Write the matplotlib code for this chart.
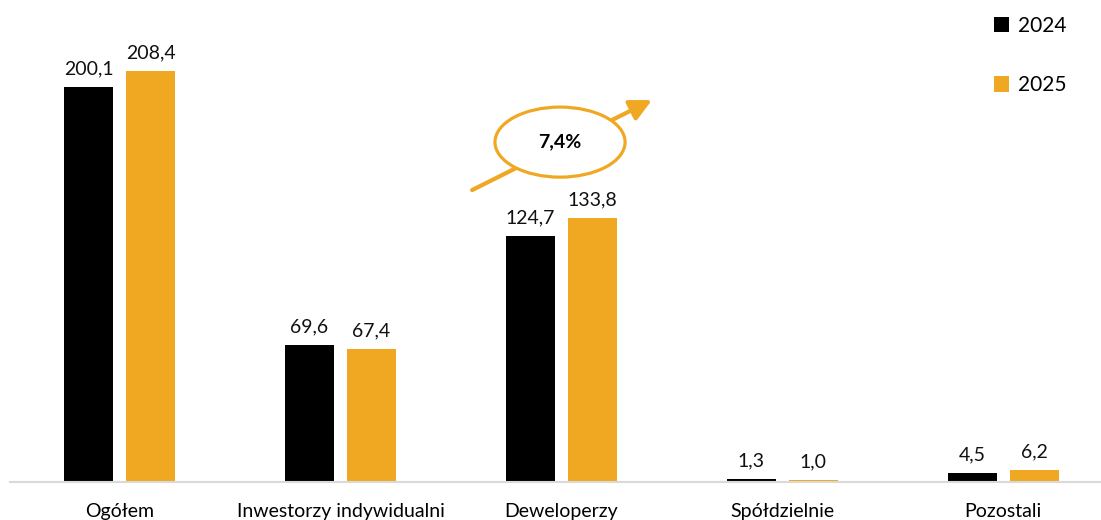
import matplotlib
matplotlib.use("Agg")
import matplotlib.pyplot as plt
from matplotlib.patches import Ellipse
import numpy as np

categories = ["Ogółem", "Inwestorzy indywidualni", "Deweloperzy", "Spółdzielnie", "Pozostali"]
values_2024 = [200.1, 69.6, 124.7, 1.3, 4.5]
values_2025 = [208.4, 67.4, 133.8, 1.0, 6.2]
series_labels = ["2024", "2025"]
growth_label = "7,4%"

BLACK = "#000000"
ORANGE = "#F0A823"
FONT = ["Lato", "DejaVu Sans"]

plt.rcParams["font.family"] = FONT

fig = plt.figure(figsize=(11.01, 5.20), dpi=100)
ax = fig.add_axes([10 / 1101, 38 / 520, 1 - 10 / 1101, 482 / 520])

x = np.arange(len(categories))
w = 0.222
off = 0.14
b1 = ax.bar(x - off, values_2024, w, color=BLACK, label=series_labels[0])
b2 = ax.bar(x + off, values_2025, w, color=ORANGE, label=series_labels[1])

def fmt(v):
    return f"{v:.1f}".replace(".", ",")

for bars, vals in ((b1, values_2024), (b2, values_2025)):
    for r, v in zip(bars, vals):
        ax.annotate(fmt(v), (r.get_x() + r.get_width() / 2, r.get_height()),
                    xytext=(0, 7), textcoords="offset points",
                    ha="center", va="bottom", fontsize=14, color="#111111")

ax.set_xlim(-0.496, 4.443)
ax.set_ylim(0, 244.2)
ax.set_xticks(x)
ax.set_xticklabels(categories, fontsize=14)
ax.tick_params(axis="x", length=0, pad=15)
ax.set_yticks([])
for s in ["top", "right", "left"]:
    ax.spines[s].set_visible(False)
ax.spines["bottom"].set_color("#D9D9D9")
ax.spines["bottom"].set_linewidth(1.5)

# growth arrow with ellipse
ax.annotate("", xy=(2.41, 193.5), xytext=(1.596, 147.9),
            arrowprops=dict(arrowstyle="-|>,head_length=1.3,head_width=0.65",
                            color=ORANGE, lw=3, shrinkA=0, shrinkB=0),
            zorder=3)
ell = Ellipse((1.994, 172.2), 0.589, 35.5, facecolor="white", edgecolor=ORANGE,
              lw=2.3, zorder=4)
ax.add_patch(ell)
ax.text(1.994, 172.2, growth_label, ha="center", va="center", fontsize=14,
        fontweight="bold", zorder=5)

leg = fig.legend(handles=[b1, b2], labels=series_labels, loc="upper left",
                 bbox_to_anchor=(975 / 1101, 1 + 3 / 520), frameon=False,
                 fontsize=15, handlelength=0.75, handleheight=0.75,
                 handletextpad=0.4, labelspacing=1.9)

fig.savefig("out.png", dpi=100)
